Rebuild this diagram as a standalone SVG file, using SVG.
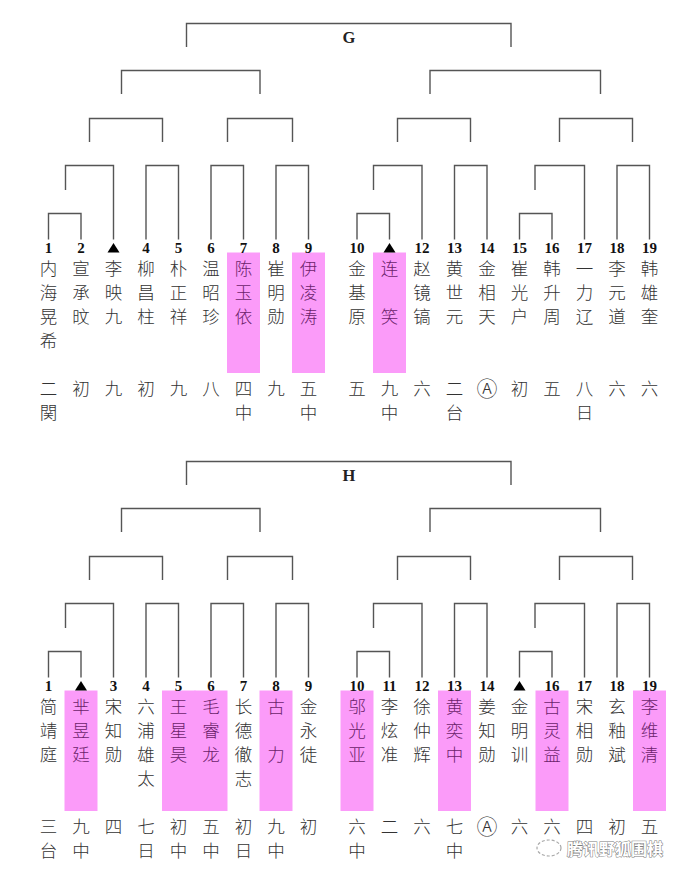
<svg xmlns="http://www.w3.org/2000/svg" width="690" height="876" viewBox="0 0 690 876">
<style>
.ln{fill:none;stroke:#555;stroke-width:1.4}
.pk{fill:#fb9bf9}
.num{font-family:"Liberation Serif",serif;font-weight:bold;font-size:15px;fill:#111;text-anchor:middle}
.nm{font-family:"Noto Sans CJK SC",sans-serif;font-weight:300;font-size:17.5px;fill:#333;text-anchor:middle}
.ca{font-size:21px}
.pn{fill:#6b1f6b}
.ttl{font-family:"Liberation Serif",serif;font-weight:bold;font-size:16.5px;fill:#222;text-anchor:middle}
.tri{fill:#000}
.wm{font-family:"Noto Sans CJK SC",sans-serif;font-weight:bold;font-size:16px;fill:#fff;stroke:#666;stroke-width:1;paint-order:stroke;text-anchor:start}
</style>
<rect width="690" height="876" fill="#fff"/>

<!-- ================= G ================= -->
<g id="connectors-G">
<path class="ln" d="M186.5,47V23.5H511V47"/>
<path class="ln" d="M121.5,94V70.5H260V94M430,94V70.5H600.5V94"/>
<path class="ln" d="M89.5,142V118.5H162.5V142M227.5,142V118.5H292.5V142M397.5,142V118.5H470.5V142M559.5,142V118.5H632.5V142"/>
<path class="ln" d="M65.5,190V165.5H113.5V239.5M146,239.5V165.5H178.5V239.5M211,239.5V165.5H243.5V239.5M276,239.5V165.5H308.5V239.5M373.5,190V165.5H422V239.5M454.5,239.5V165.5H487V239.5M535,190V165.5H584.5V239.5M617,239.5V165.5H649.5V239.5"/>
<path class="ln" d="M48.5,239.5V213.5H81V239.5M357,239.5V213.5H389.5V239.5M519.5,239.5V213.5H552V239.5"/>
</g>
<text id="title-G" class="ttl" x="349" y="42.5">G</text>

<g id="G1"><text class="num" x="48.5" y="252.5">1</text><text class="nm" x="48.5" y="275">内<tspan x="48.5" dy="24">海</tspan><tspan x="48.5" dy="24">晃</tspan><tspan x="48.5" dy="24">希</tspan></text><text class="nm" x="48.5" y="395">二<tspan x="48.5" dy="24">関</tspan></text></g>
<g id="G2"><text class="num" x="81" y="252.5">2</text><text class="nm" x="81" y="275">宣<tspan x="81" dy="24">承</tspan><tspan x="81" dy="24">旼</tspan></text><text class="nm" x="81" y="395">初</text></g>
<g id="G3"><polygon class="tri" points="107.5,252.5 119.5,252.5 113.5,243"/><text class="nm" x="113.5" y="275">李<tspan x="113.5" dy="24">映</tspan><tspan x="113.5" dy="24">九</tspan></text><text class="nm" x="113.5" y="395">九</text></g>
<g id="G4"><text class="num" x="146" y="252.5">4</text><text class="nm" x="146" y="275">柳<tspan x="146" dy="24">昌</tspan><tspan x="146" dy="24">柱</tspan></text><text class="nm" x="146" y="395">初</text></g>
<g id="G5"><text class="num" x="178.5" y="252.5">5</text><text class="nm" x="178.5" y="275">朴<tspan x="178.5" dy="24">正</tspan><tspan x="178.5" dy="24">祥</tspan></text><text class="nm" x="178.5" y="395">九</text></g>
<g id="G6"><text class="num" x="211" y="252.5">6</text><text class="nm" x="211" y="275">温<tspan x="211" dy="24">昭</tspan><tspan x="211" dy="24">珍</tspan></text><text class="nm" x="211" y="395">八</text></g>
<g id="G7"><rect class="pk" x="227" y="252.5" width="33" height="120.5"/><text class="num" x="243.5" y="252.5">7</text><text class="nm pn" x="243.5" y="275">陈<tspan x="243.5" dy="24">玉</tspan><tspan x="243.5" dy="24">依</tspan></text><text class="nm" x="243.5" y="395">四<tspan x="243.5" dy="24">中</tspan></text></g>
<g id="G8"><text class="num" x="276" y="252.5">8</text><text class="nm" x="276" y="275">崔<tspan x="276" dy="24">明</tspan><tspan x="276" dy="24">勋</tspan></text><text class="nm" x="276" y="395">九</text></g>
<g id="G9"><rect class="pk" x="292" y="252.5" width="33" height="120.5"/><text class="num" x="308.5" y="252.5">9</text><text class="nm pn" x="308.5" y="275">伊<tspan x="308.5" dy="24">凌</tspan><tspan x="308.5" dy="24">涛</tspan></text><text class="nm" x="308.5" y="395">五<tspan x="308.5" dy="24">中</tspan></text></g>
<g id="G10"><text class="num" x="357" y="252.5">10</text><text class="nm" x="357" y="275">金<tspan x="357" dy="24">基</tspan><tspan x="357" dy="24">原</tspan></text><text class="nm" x="357" y="395">五</text></g>
<g id="G11"><rect class="pk" x="373" y="252.5" width="33" height="120.5"/><polygon class="tri" points="383.5,252.5 395.5,252.5 389.5,243"/><text class="nm pn" x="389.5" y="275">连<tspan x="389.5" dy="48">笑</tspan></text><text class="nm" x="389.5" y="395">九<tspan x="389.5" dy="24">中</tspan></text></g>
<g id="G12"><text class="num" x="422" y="252.5">12</text><text class="nm" x="422" y="275">赵<tspan x="422" dy="24">镜</tspan><tspan x="422" dy="24">镐</tspan></text><text class="nm" x="422" y="395">六</text></g>
<g id="G13"><text class="num" x="454.5" y="252.5">13</text><text class="nm" x="454.5" y="275">黄<tspan x="454.5" dy="24">世</tspan><tspan x="454.5" dy="24">元</tspan></text><text class="nm" x="454.5" y="395">二<tspan x="454.5" dy="24">台</tspan></text></g>
<g id="G14"><text class="num" x="487" y="252.5">14</text><text class="nm" x="487" y="275">金<tspan x="487" dy="24">相</tspan><tspan x="487" dy="24">天</tspan></text><text class="nm ca" x="487" y="396">Ⓐ</text></g>
<g id="G15"><text class="num" x="519.5" y="252.5">15</text><text class="nm" x="519.5" y="275">崔<tspan x="519.5" dy="24">光</tspan><tspan x="519.5" dy="24">户</tspan></text><text class="nm" x="519.5" y="395">初</text></g>
<g id="G16"><text class="num" x="552" y="252.5">16</text><text class="nm" x="552" y="275">韩<tspan x="552" dy="24">升</tspan><tspan x="552" dy="24">周</tspan></text><text class="nm" x="552" y="395">五</text></g>
<g id="G17"><text class="num" x="584.5" y="252.5">17</text><text class="nm" x="584.5" y="275">一<tspan x="584.5" dy="24">力</tspan><tspan x="584.5" dy="24">辽</tspan></text><text class="nm" x="584.5" y="395">八<tspan x="584.5" dy="24">日</tspan></text></g>
<g id="G18"><text class="num" x="617" y="252.5">18</text><text class="nm" x="617" y="275">李<tspan x="617" dy="24">元</tspan><tspan x="617" dy="24">道</tspan></text><text class="nm" x="617" y="395">六</text></g>
<g id="G19"><text class="num" x="649.5" y="252.5">19</text><text class="nm" x="649.5" y="275">韩<tspan x="649.5" dy="24">雄</tspan><tspan x="649.5" dy="24">奎</tspan></text><text class="nm" x="649.5" y="395">六</text></g>

<!-- ================= H ================= -->
<g id="connectors-H" transform="translate(0,438)">
<path class="ln" d="M186.5,47V23.5H511V47"/>
<path class="ln" d="M121.5,94V70.5H260V94M430,94V70.5H600.5V94"/>
<path class="ln" d="M89.5,142V118.5H162.5V142M227.5,142V118.5H292.5V142M397.5,142V118.5H470.5V142M559.5,142V118.5H632.5V142"/>
<path class="ln" d="M65.5,190V165.5H113.5V239.5M146,239.5V165.5H178.5V239.5M211,239.5V165.5H243.5V239.5M276,239.5V165.5H308.5V239.5M373.5,190V165.5H422V239.5M454.5,239.5V165.5H487V239.5M535,190V165.5H584.5V239.5M617,239.5V165.5H649.5V239.5"/>
<path class="ln" d="M48.5,239.5V213.5H81V239.5M357,239.5V213.5H389.5V239.5M519.5,239.5V213.5H552V239.5"/>
</g>
<text id="title-H" class="ttl" x="349" y="480.5">H</text>

<g id="H1"><text class="num" x="48.5" y="690.5">1</text><text class="nm" x="48.5" y="713">简<tspan x="48.5" dy="24">靖</tspan><tspan x="48.5" dy="24">庭</tspan></text><text class="nm" x="48.5" y="833">三<tspan x="48.5" dy="24">台</tspan></text></g>
<g id="H2"><rect class="pk" x="64.5" y="690.5" width="33" height="120.5"/><polygon class="tri" points="75,690.5 87,690.5 81,681"/><text class="nm pn" x="81" y="713">芈<tspan x="81" dy="24">昱</tspan><tspan x="81" dy="24">廷</tspan></text><text class="nm" x="81" y="833">九<tspan x="81" dy="24">中</tspan></text></g>
<g id="H3"><text class="num" x="113.5" y="690.5">3</text><text class="nm" x="113.5" y="713">宋<tspan x="113.5" dy="24">知</tspan><tspan x="113.5" dy="24">勋</tspan></text><text class="nm" x="113.5" y="833">四</text></g>
<g id="H4"><text class="num" x="146" y="690.5">4</text><text class="nm" x="146" y="713">六<tspan x="146" dy="24">浦</tspan><tspan x="146" dy="24">雄</tspan><tspan x="146" dy="24">太</tspan></text><text class="nm" x="146" y="833">七<tspan x="146" dy="24">日</tspan></text></g>
<g id="H5"><rect class="pk" x="162" y="690.5" width="33.5" height="120.5"/><text class="num" x="178.5" y="690.5">5</text><text class="nm pn" x="178.5" y="713">王<tspan x="178.5" dy="24">星</tspan><tspan x="178.5" dy="24">昊</tspan></text><text class="nm" x="178.5" y="833">初<tspan x="178.5" dy="24">中</tspan></text></g>
<g id="H6"><rect class="pk" x="194.5" y="690.5" width="33" height="120.5"/><text class="num" x="211" y="690.5">6</text><text class="nm pn" x="211" y="713">毛<tspan x="211" dy="24">睿</tspan><tspan x="211" dy="24">龙</tspan></text><text class="nm" x="211" y="833">五<tspan x="211" dy="24">中</tspan></text></g>
<g id="H7"><text class="num" x="243.5" y="690.5">7</text><text class="nm" x="243.5" y="713">长<tspan x="243.5" dy="24">德</tspan><tspan x="243.5" dy="24">徹</tspan><tspan x="243.5" dy="24">志</tspan></text><text class="nm" x="243.5" y="833">初<tspan x="243.5" dy="24">日</tspan></text></g>
<g id="H8"><rect class="pk" x="259.5" y="690.5" width="33" height="120.5"/><text class="num" x="276" y="690.5">8</text><text class="nm pn" x="276" y="713">古<tspan x="276" dy="48">力</tspan></text><text class="nm" x="276" y="833">九<tspan x="276" dy="24">中</tspan></text></g>
<g id="H9"><text class="num" x="308.5" y="690.5">9</text><text class="nm" x="308.5" y="713">金<tspan x="308.5" dy="24">永</tspan><tspan x="308.5" dy="24">徒</tspan></text><text class="nm" x="308.5" y="833">初</text></g>
<g id="H10"><rect class="pk" x="340.5" y="690.5" width="33" height="120.5"/><text class="num" x="357" y="690.5">10</text><text class="nm pn" x="357" y="713">邬<tspan x="357" dy="24">光</tspan><tspan x="357" dy="24">亚</tspan></text><text class="nm" x="357" y="833">六<tspan x="357" dy="24">中</tspan></text></g>
<g id="H11"><text class="num" x="389.5" y="690.5">11</text><text class="nm" x="389.5" y="713">李<tspan x="389.5" dy="24">炫</tspan><tspan x="389.5" dy="24">准</tspan></text><text class="nm" x="389.5" y="833">二</text></g>
<g id="H12"><text class="num" x="422" y="690.5">12</text><text class="nm" x="422" y="713">徐<tspan x="422" dy="24">仲</tspan><tspan x="422" dy="24">辉</tspan></text><text class="nm" x="422" y="833">六</text></g>
<g id="H13"><rect class="pk" x="438" y="690.5" width="33" height="120.5"/><text class="num" x="454.5" y="690.5">13</text><text class="nm pn" x="454.5" y="713">黄<tspan x="454.5" dy="24">奕</tspan><tspan x="454.5" dy="24">中</tspan></text><text class="nm" x="454.5" y="833">七<tspan x="454.5" dy="24">中</tspan></text></g>
<g id="H14"><text class="num" x="487" y="690.5">14</text><text class="nm" x="487" y="713">姜<tspan x="487" dy="24">知</tspan><tspan x="487" dy="24">勋</tspan></text><text class="nm ca" x="487" y="834">Ⓐ</text></g>
<g id="H15"><polygon class="tri" points="513.5,690.5 525.5,690.5 519.5,681"/><text class="nm" x="519.5" y="713">金<tspan x="519.5" dy="24">明</tspan><tspan x="519.5" dy="24">训</tspan></text><text class="nm" x="519.5" y="833">六</text></g>
<g id="H16"><rect class="pk" x="535.5" y="690.5" width="33" height="120.5"/><text class="num" x="552" y="690.5">16</text><text class="nm pn" x="552" y="713">古<tspan x="552" dy="24">灵</tspan><tspan x="552" dy="24">益</tspan></text><text class="nm" x="552" y="833">六</text></g>
<g id="H17"><text class="num" x="584.5" y="690.5">17</text><text class="nm" x="584.5" y="713">宋<tspan x="584.5" dy="24">相</tspan><tspan x="584.5" dy="24">勋</tspan></text><text class="nm" x="584.5" y="833">四</text></g>
<g id="H18"><text class="num" x="617" y="690.5">18</text><text class="nm" x="617" y="713">玄<tspan x="617" dy="24">釉</tspan><tspan x="617" dy="24">斌</tspan></text><text class="nm" x="617" y="833">初</text></g>
<g id="H19"><rect class="pk" x="633" y="690.5" width="33" height="120.5"/><text class="num" x="649.5" y="690.5">19</text><text class="nm pn" x="649.5" y="713">李<tspan x="649.5" dy="24">维</tspan><tspan x="649.5" dy="24">清</tspan></text><text class="nm" x="649.5" y="833">五</text></g>

<!-- watermark -->
<g id="watermark" opacity="0.85">
<ellipse cx="549" cy="848" rx="12" ry="8" fill="none" stroke="#999" stroke-width="1.2" stroke-dasharray="3,2"/>
<text class="wm" x="567" y="855">腾讯野狐围棋</text>
</g>
</svg>
